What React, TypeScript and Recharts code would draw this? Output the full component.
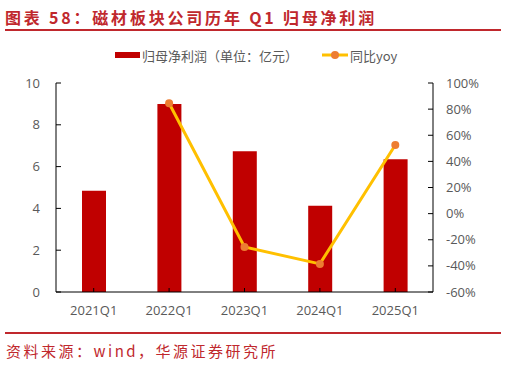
import React from 'react';
import { ComposedChart, Bar, Line, XAxis, YAxis } from 'recharts';

const quarters = ['2021Q1', '2022Q1', '2023Q1', '2024Q1', '2025Q1'];
const netProfit = [4.85, 9.0, 6.73, 4.13, 6.35];
const yoy = [null, 84.5, -25.5, -38.5, 52.5];
const leftTicks = [0, 2, 4, 6, 8, 10];
const rightTicks = [-60, -40, -20, 0, 20, 40, 60, 80, 100];

const data = quarters.map((q, i) => ({ name: q, profit: netProfit[i], yoy: yoy[i] }));

const RED = '#C00000';
const GOLD = '#FFC000';
const ORANGE = '#ED7D31';
const TITLE_RED = '#C0282D';
const FONT = '"Noto Sans CJK SC", "Open Sans", sans-serif';
const TICK_FONT = '"Open Sans", "Noto Sans CJK SC", sans-serif';
const tickStyle = { fill: '#595959', fontSize: 13, fontFamily: TICK_FONT };

const ChartLegend = () => (
  <div style={{ position: 'absolute', left: 0, top: 47, width: 506, height: 16, fontFamily: FONT, fontSize: 13, color: '#595959' }}>
    <div style={{ position: 'absolute', left: 115, top: 5, width: 25, height: 6, background: RED }} />
    <span style={{ position: 'absolute', left: 142, top: -1, whiteSpace: 'nowrap' }}>归母净利润（单位：亿元）</span>
    <svg style={{ position: 'absolute', left: 322, top: 2 }} width={26} height={12}>
      <line x1={0} y1={6} x2={26} y2={6} stroke={GOLD} strokeWidth={3} />
      <circle cx={13} cy={6} r={4} fill={ORANGE} />
    </svg>
    <span style={{ position: 'absolute', left: 350, top: -1, whiteSpace: 'nowrap' }}>同比yoy</span>
  </div>
);

const App: React.FC = () => {
  return (
    <div style={{ position: 'fixed', left: 0, top: 0, width: 506, height: 367, background: '#fff', overflow: 'hidden' }}>
      <div
        style={{
          position: 'absolute', left: 5, top: 5, fontFamily: FONT, fontWeight: 700, fontSize: 16,
          letterSpacing: 2.8, color: TITLE_RED, whiteSpace: 'nowrap',
        }}
      >
        图表 58：磁材板块公司历年 Q1 归母净利润
      </div>
      <div style={{ position: 'absolute', left: 5, top: 29, width: 496, height: 2, background: TITLE_RED }} />

      <ChartLegend />

      <div style={{ position: 'absolute', left: 0, top: 0 }}>
        <ComposedChart width={506} height={330} data={data} margin={{ top: 83, right: 0, bottom: 0, left: 0 }} barSize={24}>
          <XAxis
            dataKey="name"
            height={38}
            axisLine={{ stroke: '#000' }}
            tickLine={{ stroke: '#000' }}
            tickSize={-4}
            tickMargin={18}
            tick={tickStyle}
          />
          <YAxis
            yAxisId="left"
            width={56}
            domain={[0, 10]}
            ticks={leftTicks}
            axisLine={{ stroke: '#000' }}
            tickLine={{ stroke: '#000' }}
            tickSize={-5}
            tickMargin={21}
            tick={tickStyle}
          />
          <YAxis
            yAxisId="right"
            orientation="right"
            width={73}
            domain={[-60, 100]}
            ticks={rightTicks}
            tickFormatter={(v: number) => `${v}%`}
            axisLine={{ stroke: '#000' }}
            tickLine={{ stroke: '#000' }}
            tickSize={-5}
            tickMargin={18}
            tick={tickStyle}
          />
          <Bar yAxisId="left" dataKey="profit" name="归母净利润（单位：亿元）" fill={RED} isAnimationActive={false} />
          <Line
            yAxisId="right"
            dataKey="yoy"
            name="同比yoy"
            stroke={GOLD}
            strokeWidth={3}
            dot={{ r: 4, fill: ORANGE, stroke: 'none' }}
            activeDot={false}
            isAnimationActive={false}
          />
        </ComposedChart>
      </div>

      <div style={{ position: 'absolute', left: 5, top: 332, width: 496, height: 2, background: TITLE_RED }} />
      <div
        style={{
          position: 'absolute', left: 6, top: 340, fontFamily: FONT, fontSize: 15,
          letterSpacing: 2.5, color: TITLE_RED, whiteSpace: 'nowrap',
        }}
      >
        资料来源：wind，华源证券研究所
      </div>
    </div>
  );
};

export default App;
